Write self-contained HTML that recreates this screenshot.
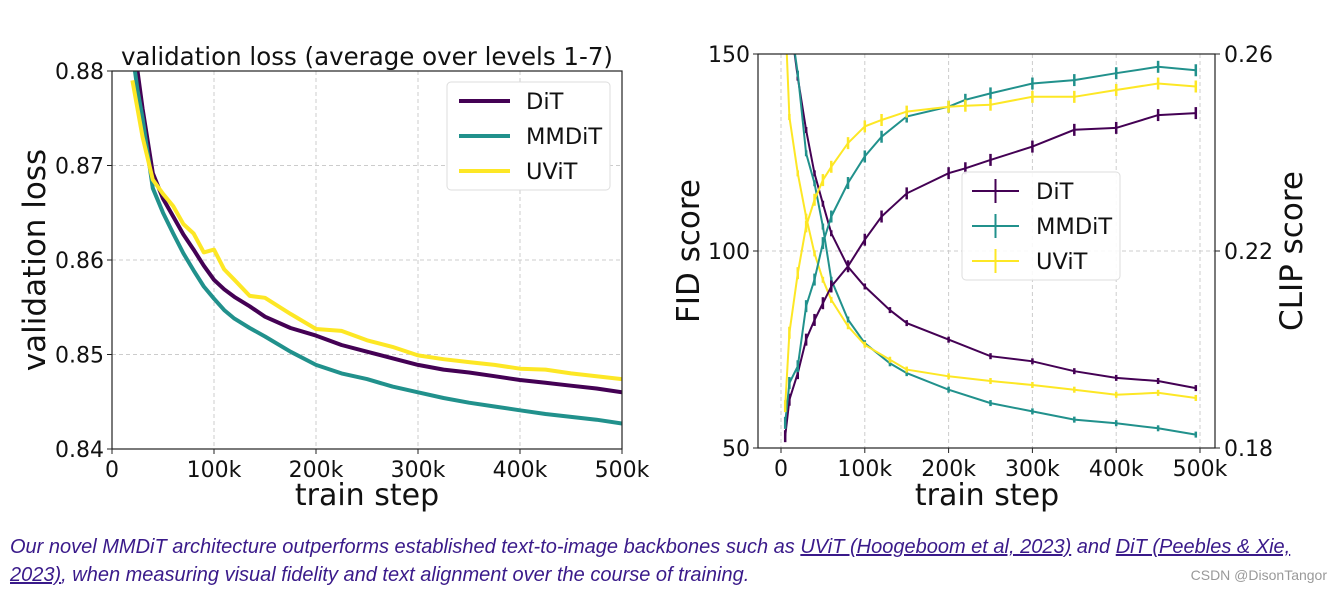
<!DOCTYPE html>
<html><head><meta charset="utf-8"><style>
body{margin:0;background:#fff;width:1341px;height:595px;overflow:hidden;font-family:"Liberation Sans",sans-serif}
svg text{font-family:"DejaVu Sans","Liberation Sans",sans-serif}
.cap{position:absolute;left:10px;top:533px;width:1320px;font-family:"Liberation Sans",sans-serif;font-style:italic;font-size:20px;line-height:28px;color:#3a1a8a;white-space:nowrap}
.cap u{color:#3a1a8a}
.wm{position:absolute;right:14px;top:567px;font-size:14px;color:#999;font-family:"Liberation Sans","Noto Sans CJK SC",sans-serif}
</style></head><body>
<svg id="svg" width="1341" height="595" style="position:absolute;left:0;top:0"></svg>
<div class="cap">Our novel MMDiT architecture outperforms established text-to-image backbones such as <u>UViT (Hoogeboom et al, 2023)</u> and <u>DiT (Peebles &amp; Xie,<br>2023)</u>, when measuring visual fidelity and text alignment over the course of training.</div>
<div class="wm">CSDN @DisonTangor</div>
<script>
const lossSteps=[20,25,30,40,50,60,70,80,90,100,110,120,135,150,175,200,225,250,275,300,325,350,375,400,425,450,475,500];
const lossDiT=[0.884,0.880,0.876,0.8692,0.8665,0.8646,0.8627,0.8611,0.8594,0.8579,0.8569,0.8561,0.8551,0.8540,0.8528,0.8520,0.8510,0.8503,0.8496,0.8489,0.8484,0.8481,0.8477,0.8473,0.8470,0.8467,0.8464,0.8460];
const lossMM=[0.882,0.878,0.875,0.8676,0.8650,0.8628,0.8607,0.8589,0.8572,0.8559,0.8547,0.8538,0.8528,0.8519,0.8503,0.8489,0.8480,0.8474,0.8466,0.8460,0.8454,0.8449,0.8445,0.8441,0.8437,0.8434,0.8431,0.8427];
const lossUV=[0.879,0.876,0.873,0.8685,0.8670,0.8657,0.8638,0.8628,0.8608,0.8611,0.8590,0.8579,0.8562,0.8560,0.8543,0.8527,0.8525,0.8515,0.8508,0.8499,0.8495,0.8492,0.8489,0.8485,0.8484,0.8480,0.8477,0.8474];
const fidSteps=[5,10,20,30,40,50,60,80,100,130,150,200,250,300,350,400,450,495];
const fidDiT=[170,160,144,130.7,119.7,112,104.5,96,91,85,81.7,77.5,73.3,72,69.5,67.8,67,65.2];
const fidMM=[170,160,145,124.8,117.2,106.2,92.7,82.6,76.6,71.5,69,64.8,61.4,59.3,57.2,56.3,55,53.4];
const fidUV=[160,134,119.7,108.7,99.4,92.7,87.6,80.9,76.2,72.4,69.9,68.2,67,66,64.8,63.5,64,62.7];
const clipSteps=[5,10,20,30,40,50,60,80,100,120,150,200,220,250,300,350,400,450,495];
const clipDiT=[0.1824,0.1898,0.1952,0.202,0.206,0.2094,0.2128,0.2169,0.2223,0.227,0.2317,0.2358,0.2368,0.2385,0.2412,0.2446,0.245,0.2476,0.248];
const clipMM=[0.1851,0.1932,0.1966,0.2088,0.2142,0.2216,0.227,0.2338,0.2392,0.2432,0.2473,0.2493,0.2507,0.252,0.254,0.2547,0.2561,0.2574,0.2567];
const clipUV=[0.1885,0.2034,0.2155,0.225,0.2304,0.2344,0.2371,0.2419,0.2453,0.2466,0.2483,0.2493,0.2495,0.2497,0.2513,0.2513,0.2527,0.254,0.2534];
const xTicks=[0,100,200,300,400,500];
const lossTicks=[0.84,0.85,0.86,0.87,0.88];
const fidTicks=[50,100,150];
const clipTicks=[0.18,0.22,0.26];
const C={DiT:'#440154',MMDiT:'#21918c',UViT:'#fde725'};
const NS='http://www.w3.org/2000/svg';
const svg=document.getElementById('svg');
function el(tag,attrs,parent){const e=document.createElementNS(NS,tag);for(const k in attrs)e.setAttribute(k,attrs[k]);(parent||svg).appendChild(e);return e;}
function txt(s,attrs,parent){const e=el('text',attrs,parent);e.textContent=s;return e;}
function fmtK(v){return v===0?'0':v+'k';}

// ---------- left chart ----------
const L={x0:112,x1:622,y0:449,y1:71};
const lx=v=>L.x0+(v/500)*(L.x1-L.x0);
const ly=v=>L.y0-(v-0.84)/0.04*(L.y0-L.y1);
const gL=el('g',{});


const clipL=el('clipPath',{id:'cl'},gL);el('rect',{x:L.x0,y:L.y1,width:L.x1-L.x0,height:L.y0-L.y1},clipL);
xTicks.forEach(t=>{if(t>0&&t<500){const g=el('line',{x1:lx(t),x2:lx(t),y1:L.y1,y2:L.y0,stroke:'#ccc','stroke-dasharray':'4,3','stroke-width':1},gL);}});
lossTicks.forEach(t=>{if(t>0.84&&t<0.88){const g=el('line',{x1:L.x0,x2:L.x1,y1:ly(t),y2:ly(t),stroke:'#ccc','stroke-dasharray':'4,3','stroke-width':1},gL);}});
[['DiT',lossDiT],['MMDiT',lossMM],['UViT',lossUV]].forEach(([n,arr])=>{
  const d=arr.map((v,i)=>(i?'L':'M')+lx(lossSteps[i]).toFixed(1)+','+ly(v).toFixed(1)).join('');
  const p=el('path',{d,fill:'none',stroke:C[n],'stroke-width':4,'clip-path':'url(#cl)','stroke-linejoin':'round'},gL);
  
  
});
el('rect',{x:L.x0,y:L.y1,width:L.x1-L.x0,height:L.y0-L.y1,fill:'none',stroke:'#222','stroke-width':1.2},gL);
xTicks.forEach(t=>{el('line',{x1:lx(t),x2:lx(t),y1:L.y0,y2:L.y0+5,stroke:'#222'},gL);
  const tl=txt(fmtK(t),{x:lx(t),y:L.y0+28,'font-size':22,'text-anchor':'middle',fill:'#111'},gL);});
lossTicks.forEach(t=>{el('line',{x1:L.x0-5,x2:L.x0,y1:ly(t),y2:ly(t),stroke:'#222'},gL);
  const tl=txt(t.toFixed(2),{x:L.x0-8,y:ly(t)+8,'font-size':22,'text-anchor':'end',fill:'#111'},gL);});
let t1=txt('validation loss (average over levels 1-7)',{x:367,y:65,'font-size':24.5,'text-anchor':'middle',fill:'#111'},gL);
t1=txt('train step',{x:367,y:505,'font-size':30,'text-anchor':'middle',fill:'#111'},gL);
t1=txt('validation loss',{x:0,y:0,'font-size':31,'text-anchor':'middle',fill:'#111',transform:'translate(45,260) rotate(-90)'},gL);
const lg=el('g',{},gL);
el('rect',{x:447,y:82,width:163,height:108,rx:4,fill:'#fff',stroke:'#ddd'},lg);
['DiT','MMDiT','UViT'].forEach((n,i)=>{const y=101+i*35;
  const e=el('line',{x1:459,x2:510,y1:y,y2:y,stroke:C[n],'stroke-width':4},lg);
  const t=txt(n,{x:526,y:y+8,'font-size':22.5,fill:'#111'},lg);});

// ---------- right chart ----------
const R={x0:758,x1:1215,y0:448,y1:54};
const rx=v=>781+(v/500)*(1200-781);
const ry=v=>R.y0-(v-50)/100*(R.y0-R.y1);
const rc=v=>R.y0-(v-0.18)/0.08*(R.y0-R.y1);
const gR=el('g',{});


const clipR=el('clipPath',{id:'cr'},gR);el('rect',{x:R.x0,y:R.y1,width:R.x1-R.x0,height:R.y0-R.y1},clipR);
xTicks.forEach(t=>{const g=el('line',{x1:rx(t),x2:rx(t),y1:R.y1,y2:R.y0,stroke:'#ccc','stroke-dasharray':'4,3'},gR);});
const g2=el('line',{x1:R.x0,x2:R.x1,y1:ry(100),y2:ry(100),stroke:'#ccc','stroke-dasharray':'4,3'},gR);
function series(steps,arr,yf,n,kind){
  const g=el('g',{'clip-path':'url(#cr)'},gR);
  
  
  const d=arr.map((v,i)=>(i?'L':'M')+rx(steps[i]).toFixed(1)+','+yf(v).toFixed(1)).join('');
  el('path',{d,fill:'none',stroke:C[n],'stroke-width':2},g);
  arr.forEach((v,i)=>{const x=rx(steps[i]),y=yf(v);
    const b=el('line',{x1:x,x2:x,y1:y-(kind==='clip'?6:3),y2:y+(kind==='clip'?6:3),stroke:C[n],'stroke-width':2.5},g);
    });
}
series(fidSteps,fidDiT,ry,'DiT','fid');series(fidSteps,fidMM,ry,'MMDiT','fid');series(fidSteps,fidUV,ry,'UViT','fid');
series(clipSteps,clipDiT,rc,'DiT','clip');series(clipSteps,clipMM,rc,'MMDiT','clip');series(clipSteps,clipUV,rc,'UViT','clip');
el('rect',{x:R.x0,y:R.y1,width:R.x1-R.x0,height:R.y0-R.y1,fill:'none',stroke:'#222','stroke-width':1.2},gR);
xTicks.forEach(t=>{el('line',{x1:rx(t),x2:rx(t),y1:R.y0,y2:R.y0+5,stroke:'#222'},gR);
  const tl=txt(fmtK(t),{x:rx(t),y:R.y0+28,'font-size':22,'text-anchor':'middle',fill:'#111'},gR);});
fidTicks.forEach(t=>{el('line',{x1:R.x0-5,x2:R.x0,y1:ry(t),y2:ry(t),stroke:'#222'},gR);
  const tl=txt(String(t),{x:R.x0-8,y:ry(t)+8,'font-size':22,'text-anchor':'end',fill:'#111'},gR);});
clipTicks.forEach(t=>{el('line',{x1:R.x1,x2:R.x1+5,y1:rc(t),y2:rc(t),stroke:'#222'},gR);
  const tl=txt(t.toFixed(2),{x:R.x1+9,y:rc(t)+8,'font-size':22,'text-anchor':'start',fill:'#111'},gR);});
t1=txt('train step',{x:987,y:505,'font-size':30,'text-anchor':'middle',fill:'#111'},gR);
t1=txt('FID score',{x:0,y:0,'font-size':31,'text-anchor':'middle',fill:'#111',transform:'translate(699,251) rotate(-90)'},gR);
t1=txt('CLIP score',{x:0,y:0,'font-size':31,'text-anchor':'middle',fill:'#111',transform:'translate(1302,251) rotate(-90)'},gR);
const lg2=el('g',{},gR);
el('rect',{x:962,y:172,width:158,height:108,rx:4,fill:'#fff',stroke:'#ddd','fill-opacity':0.9},lg2);
['DiT','MMDiT','UViT'].forEach((n,i)=>{const y=191+i*35;
  const e=el('line',{x1:972,x2:1019,y1:y,y2:y,stroke:C[n],'stroke-width':2},lg2);
  el('line',{x1:995.5,x2:995.5,y1:y-12,y2:y+12,stroke:C[n],'stroke-width':2},lg2);
  const t=txt(n,{x:1036,y:y+8,'font-size':22.5,fill:'#111'},lg2);});
</script>
</body></html>
